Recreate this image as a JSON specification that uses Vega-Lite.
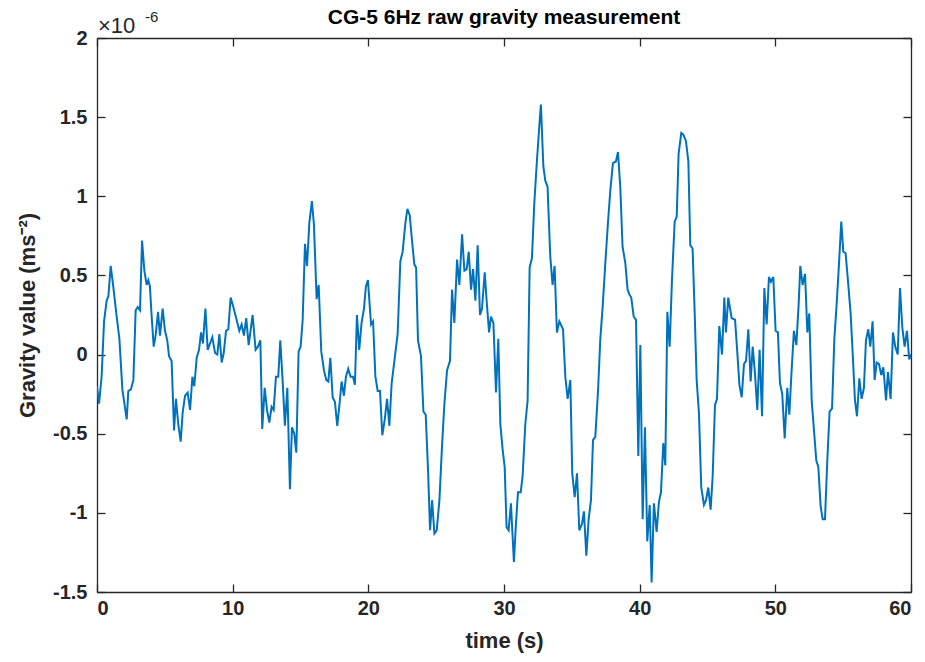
{
  "$schema": "https://vega.github.io/schema/vega-lite/v6.json",
  "width": 814,
  "height": 554,
  "autosize": "none",
  "padding": {"left": 97, "top": 38, "right": 14, "bottom": 70},
  "background": "white",
  "title": {"text": "CG-5 6Hz raw gravity measurement", "fontSize": 21, "fontWeight": "bold", "font": "Liberation Sans", "color": "#000000", "offset": 8, "dy": 26, "anchor": "middle"},
  "config": {
    "view": {"stroke": null},
    "axis": {"grid": false, "labelFont": "Liberation Sans", "labelFontWeight": "bold", "labelFontSize": 20, "labelColor": "#262626", "titleFont": "Liberation Sans", "titleFontWeight": "bold", "titleFontSize": 22, "titleColor": "#262626", "domainColor": "#262626", "domainWidth": 1.3, "tickColor": "#262626", "tickWidth": 1.3}
  },
  "datasets": {
    "grav": [
      {"t":0,"g":-0.20},{"t":0.15,"g":-0.31},{"t":0.34,"g":-0.14},{"t":0.52,"g":0.21},{"t":0.71,"g":0.34},{"t":0.84,"g":0.37},{"t":1.01,"g":0.56},{"t":1.2,"g":0.43},{"t":1.45,"g":0.24},{"t":1.65,"g":0.10},{"t":1.87,"g":-0.22},{"t":2.19,"g":-0.41},{"t":2.31,"g":-0.23},{"t":2.5,"g":-0.22},{"t":2.68,"g":-0.16},{"t":2.85,"g":0.28},{"t":3.0,"g":0.30},{"t":3.17,"g":0.28},{"t":3.32,"g":0.72},{"t":3.49,"g":0.53},{"t":3.66,"g":0.44},{"t":3.78,"g":0.47},{"t":3.9,"g":0.43},{"t":4.03,"g":0.24},{"t":4.18,"g":0.05},{"t":4.32,"g":0.12},{"t":4.5,"g":0.27},{"t":4.64,"g":0.12},{"t":4.84,"g":0.29},{"t":5.01,"g":0.15},{"t":5.18,"g":0.09},{"t":5.31,"g":-0.01},{"t":5.5,"g":-0.04},{"t":5.68,"g":-0.48},{"t":5.82,"g":-0.28},{"t":5.99,"g":-0.44},{"t":6.17,"g":-0.55},{"t":6.31,"g":-0.37},{"t":6.49,"g":-0.26},{"t":6.68,"g":-0.24},{"t":6.86,"g":-0.35},{"t":7.03,"g":-0.14},{"t":7.17,"g":-0.20},{"t":7.35,"g":-0.02},{"t":7.52,"g":0.03},{"t":7.67,"g":0.14},{"t":7.81,"g":0.07},{"t":7.99,"g":0.29},{"t":8.16,"g":0.03},{"t":8.33,"g":0.07},{"t":8.5,"g":0.11},{"t":8.7,"g":0.01},{"t":8.87,"g":0.00},{"t":9.02,"g":0.13},{"t":9.19,"g":-0.05},{"t":9.34,"g":0.01},{"t":9.51,"g":0.15},{"t":9.68,"g":0.16},{"t":9.85,"g":0.36},
      {"t":10.05,"g":0.30},{"t":10.29,"g":0.22},{"t":10.49,"g":0.15},{"t":10.66,"g":0.19},{"t":10.83,"g":0.12},{"t":11.0,"g":0.23},{"t":11.18,"g":0.06},{"t":11.47,"g":0.25},{"t":11.69,"g":0.03},{"t":11.86,"g":0.05},{"t":12.04,"g":0.09},{"t":12.18,"g":-0.47},{"t":12.36,"g":-0.21},{"t":12.53,"g":-0.35},{"t":12.7,"g":-0.43},{"t":12.87,"g":-0.33},{"t":13.02,"g":-0.35},{"t":13.19,"g":-0.14},{"t":13.36,"g":-0.14},{"t":13.51,"g":0.09},{"t":13.68,"g":-0.16},{"t":13.85,"g":-0.45},{"t":14.03,"g":-0.21},{"t":14.22,"g":-0.85},{"t":14.37,"g":-0.46},{"t":14.54,"g":-0.50},{"t":14.69,"g":-0.62},{"t":14.86,"g":0.02},{"t":15.01,"g":0.05},{"t":15.16,"g":0.22},{"t":15.33,"g":0.70},{"t":15.48,"g":0.56},{"t":15.65,"g":0.83},{"t":15.84,"g":0.97},{"t":15.99,"g":0.82},{"t":16.19,"g":0.35},{"t":16.34,"g":0.44},{"t":16.53,"g":0.02},{"t":16.73,"g":-0.10},{"t":16.9,"g":-0.16},{"t":17.05,"g":-0.17},{"t":17.2,"g":-0.02},{"t":17.37,"g":-0.27},{"t":17.54,"g":-0.30},{"t":17.71,"g":-0.45},{"t":17.88,"g":-0.31},{"t":18.03,"g":-0.17},{"t":18.2,"g":-0.26},{"t":18.35,"g":-0.14},{"t":18.52,"g":-0.09},{"t":18.69,"g":-0.14},{"t":18.87,"g":-0.14},{"t":19.01,"g":-0.19},{"t":19.16,"g":0.25},{"t":19.33,"g":0.03},{"t":19.5,"g":0.20},{"t":19.68,"g":0.29},{"t":19.82,"g":0.43},{"t":19.97,"g":0.47},
      {"t":20.2,"g":0.19},{"t":20.35,"g":0.21},{"t":20.52,"g":-0.14},{"t":20.69,"g":-0.23},{"t":20.86,"g":-0.23},{"t":21.03,"g":-0.51},{"t":21.21,"g":-0.41},{"t":21.38,"g":-0.28},{"t":21.55,"g":-0.45},{"t":21.72,"g":-0.18},{"t":21.92,"g":-0.04},{"t":22.16,"g":0.13},{"t":22.36,"g":0.59},{"t":22.53,"g":0.65},{"t":22.73,"g":0.83},{"t":22.88,"g":0.92},{"t":23.05,"g":0.88},{"t":23.22,"g":0.72},{"t":23.39,"g":0.57},{"t":23.52,"g":0.55},{"t":23.66,"g":0.09},{"t":23.88,"g":-0.01},{"t":24.06,"g":-0.36},{"t":24.23,"g":-0.38},{"t":24.4,"g":-0.73},{"t":24.55,"g":-1.11},{"t":24.7,"g":-0.92},{"t":24.87,"g":-1.13},{"t":25.04,"g":-1.11},{"t":25.24,"g":-0.92},{"t":25.43,"g":-0.58},{"t":25.6,"g":-0.32},{"t":25.8,"g":-0.10},{"t":26.02,"g":-0.04},{"t":26.17,"g":0.41},{"t":26.34,"g":0.20},{"t":26.54,"g":0.60},{"t":26.71,"g":0.44},{"t":26.91,"g":0.76},{"t":27.08,"g":0.53},{"t":27.25,"g":0.54},{"t":27.4,"g":0.65},{"t":27.57,"g":0.41},{"t":27.72,"g":0.54},{"t":27.89,"g":0.34},{"t":28.06,"g":0.69},{"t":28.23,"g":0.25},{"t":28.38,"g":0.29},{"t":28.58,"g":0.52},{"t":28.72,"g":0.34},{"t":28.9,"g":0.14},{"t":29.04,"g":0.24},{"t":29.22,"g":0.20},{"t":29.41,"g":-0.24},{"t":29.58,"g":0.10},{"t":29.73,"g":-0.44},{"t":29.9,"g":-0.60},{"t":30.05,"g":-0.71},
      {"t":30.19,"g":-1.09},{"t":30.34,"g":-1.11},{"t":30.51,"g":-0.94},{"t":30.73,"g":-1.31},{"t":30.88,"g":-1.07},{"t":31.03,"g":-0.87},{"t":31.23,"g":-0.87},{"t":31.37,"g":-0.77},{"t":31.57,"g":-0.44},{"t":31.74,"g":-0.29},{"t":31.89,"g":0.55},{"t":32.06,"g":0.61},{"t":32.23,"g":0.95},{"t":32.4,"g":1.19},{"t":32.6,"g":1.44},{"t":32.72,"g":1.58},{"t":32.9,"g":1.19},{"t":33.04,"g":1.10},{"t":33.21,"g":1.06},{"t":33.41,"g":0.62},{"t":33.58,"g":0.44},{"t":33.73,"g":0.56},{"t":33.9,"g":0.14},{"t":34.08,"g":0.21},{"t":34.35,"g":0.16},{"t":34.52,"g":-0.14},{"t":34.69,"g":-0.28},{"t":34.89,"g":-0.16},{"t":35.03,"g":-0.75},{"t":35.21,"g":-0.90},{"t":35.38,"g":-0.75},{"t":35.55,"g":-1.11},{"t":35.75,"g":-1.07},{"t":35.89,"g":-0.99},{"t":36.07,"g":-1.27},{"t":36.24,"g":-1.04},{"t":36.41,"g":-0.92},{"t":36.56,"g":-0.54},{"t":36.73,"g":-0.52},{"t":36.93,"g":-0.23},{"t":37.1,"g":0.10},{"t":37.27,"g":0.30},{"t":37.47,"g":0.58},{"t":37.66,"g":0.83},{"t":37.84,"g":1.04},{"t":38.03,"g":1.21},{"t":38.25,"g":1.22},{"t":38.4,"g":1.28},{"t":38.57,"g":1.06},{"t":38.74,"g":0.68},{"t":38.94,"g":0.58},{"t":39.11,"g":0.41},{"t":39.24,"g":0.38},{"t":39.38,"g":0.36},{"t":39.56,"g":0.24},{"t":39.73,"g":0.22},
      {"t":39.9,"g":-0.64},{"t":40.05,"g":0.06},{"t":40.22,"g":-1.04},{"t":40.39,"g":-0.46},{"t":40.56,"g":-1.18},{"t":40.74,"g":-0.95},{"t":40.88,"g":-1.44},{"t":41.05,"g":-0.94},{"t":41.25,"g":-1.12},{"t":41.42,"g":-0.93},{"t":41.57,"g":-0.87},{"t":41.74,"g":-0.56},{"t":41.89,"g":-0.70},{"t":42.04,"g":0.27},{"t":42.21,"g":0.05},{"t":42.38,"g":0.47},{"t":42.58,"g":0.84},{"t":42.73,"g":0.87},{"t":42.87,"g":1.27},{"t":43.07,"g":1.40},{"t":43.22,"g":1.39},{"t":43.41,"g":1.35},{"t":43.59,"g":1.22},{"t":43.73,"g":0.69},{"t":43.9,"g":0.67},{"t":44.05,"g":0.28},{"t":44.2,"g":-0.16},{"t":44.37,"g":-0.37},{"t":44.54,"g":-0.84},{"t":44.74,"g":-0.95},{"t":44.89,"g":-0.92},{"t":45.06,"g":-0.84},{"t":45.23,"g":-0.98},{"t":45.38,"g":-0.77},{"t":45.55,"g":-0.32},{"t":45.7,"g":-0.28},{"t":45.87,"g":0.18},
      {"t":46.07,"g":0.00},{"t":46.24,"g":0.36},{"t":46.36,"g":0.14},{"t":46.53,"g":0.36},{"t":46.78,"g":0.23},{"t":47.03,"g":0.22},{"t":47.2,"g":0.01},{"t":47.35,"g":-0.19},{"t":47.52,"g":-0.27},{"t":47.69,"g":-0.06},{"t":47.84,"g":-0.04},{"t":48.01,"g":0.16},{"t":48.18,"g":-0.17},{"t":48.33,"g":0.05},{"t":48.5,"g":-0.12},{"t":48.67,"g":-0.35},{"t":48.84,"g":0.03},{"t":49.02,"g":-0.39},{"t":49.19,"g":0.42},{"t":49.36,"g":0.19},{"t":49.53,"g":0.49},{"t":49.68,"g":0.46},{"t":49.85,"g":0.49},{"t":50.02,"g":0.15},{"t":50.19,"g":0.14},{"t":50.34,"g":-0.18},{"t":50.51,"g":-0.25},{"t":50.69,"g":-0.53},{"t":50.88,"g":-0.21},{"t":51.03,"g":-0.38},{"t":51.2,"g":-0.10},{"t":51.37,"g":0.15},{"t":51.55,"g":0.06},{"t":51.72,"g":0.32},{"t":51.84,"g":0.56},{"t":52.01,"g":0.44},{"t":52.19,"g":0.51},{"t":52.36,"g":0.14},{"t":52.5,"g":0.26},{"t":52.68,"g":-0.29},{"t":52.85,"g":-0.48},
      {"t":53.02,"g":-0.67},{"t":53.17,"g":-0.71},{"t":53.34,"g":-0.96},{"t":53.49,"g":-1.04},{"t":53.66,"g":-1.04},{"t":53.83,"g":-0.67},{"t":54.0,"g":-0.36},{"t":54.18,"g":-0.34},{"t":54.35,"g":0.10},{"t":54.52,"g":0.32},{"t":54.69,"g":0.57},{"t":54.86,"g":0.84},{"t":55.01,"g":0.65},{"t":55.18,"g":0.64},{"t":55.35,"g":0.47},{"t":55.55,"g":0.26},{"t":55.7,"g":0.01},{"t":55.87,"g":-0.29},{"t":56.02,"g":-0.39},{"t":56.19,"g":-0.15},{"t":56.36,"g":-0.28},{"t":56.53,"g":-0.21},{"t":56.68,"g":0.09},{"t":56.85,"g":0.16},{"t":57.0,"g":0.05},{"t":57.17,"g":0.21},{"t":57.32,"g":-0.16},{"t":57.47,"g":-0.05},{"t":57.64,"g":-0.06},{"t":57.81,"g":-0.13},{"t":57.96,"g":-0.08},{"t":58.16,"g":-0.29},{"t":58.3,"g":-0.11},{"t":58.5,"g":-0.28},{"t":58.67,"g":0.14},{"t":58.84,"g":0.05},{"t":59.02,"g":0.00},{"t":59.19,"g":0.42},{"t":59.36,"g":0.17},{"t":59.53,"g":0.05},{"t":59.7,"g":0.15},{"t":59.87,"g":-0.03},{"t":60,"g":0.0}
    ],
    "mult": [{"t": 0, "g": 2, "base": "×10", "exp": "-6"}]
  },
  "layer": [
    {
      "data": {"name": "grav"},
      "mark": {"type": "line", "color": "#0072BD", "strokeWidth": 2, "clip": true},
      "encoding": {
        "x": {"field": "t", "type": "quantitative", "scale": {"domain": [0, 60], "nice": false, "zero": false},
          "axis": {"title": "time (s)", "values": [0, 10, 20, 30, 40, 50, 60], "labelExpr": "'' + datum.value", "tickSize": -8, "labelPadding": 14, "titleY": 38}},
        "y": {"field": "g", "type": "quantitative", "scale": {"domain": [-1.5, 2], "nice": false, "zero": false},
          "axis": {"title": "Gravity value (ms⁻²)", "values": [-1.5, -1, -0.5, 0, 0.5, 1, 1.5, 2], "labelExpr": "'' + datum.value", "tickSize": -8, "labelPadding": 18, "titleX": -58}}
      }
    },
    {
      "data": {"name": "grav"},
      "mark": {"type": "line", "opacity": 0},
      "encoding": {
        "x": {"field": "t", "type": "quantitative", "scale": {"domain": [0, 60], "nice": false, "zero": false},
          "axis": {"orient": "top", "title": null, "labels": false, "values": [0, 10, 20, 30, 40, 50, 60], "tickSize": -8}},
        "y": {"field": "g", "type": "quantitative", "scale": {"domain": [-1.5, 2], "nice": false, "zero": false},
          "axis": {"orient": "right", "title": null, "labels": false, "values": [-1.5, -1, -0.5, 0, 0.5, 1, 1.5, 2], "tickSize": -8}}
      }
    },
    {
      "data": {"name": "mult"},
      "mark": {"type": "text", "align": "left", "baseline": "alphabetic", "font": "Liberation Sans", "fontSize": 22, "dx": 1, "dy": -5, "color": "#262626"},
      "encoding": {
        "x": {"field": "t", "type": "quantitative", "axis": null},
        "y": {"field": "g", "type": "quantitative", "axis": null},
        "text": {"field": "base"}
      }
    },
    {
      "data": {"name": "mult"},
      "mark": {"type": "text", "align": "left", "baseline": "alphabetic", "font": "Liberation Sans", "fontSize": 15, "dx": 48, "dy": -16, "color": "#262626"},
      "encoding": {
        "x": {"field": "t", "type": "quantitative", "axis": null},
        "y": {"field": "g", "type": "quantitative", "axis": null},
        "text": {"field": "exp"}
      }
    }
  ],
  "resolve": {"axis": {"x": "independent", "y": "independent"}}
}
